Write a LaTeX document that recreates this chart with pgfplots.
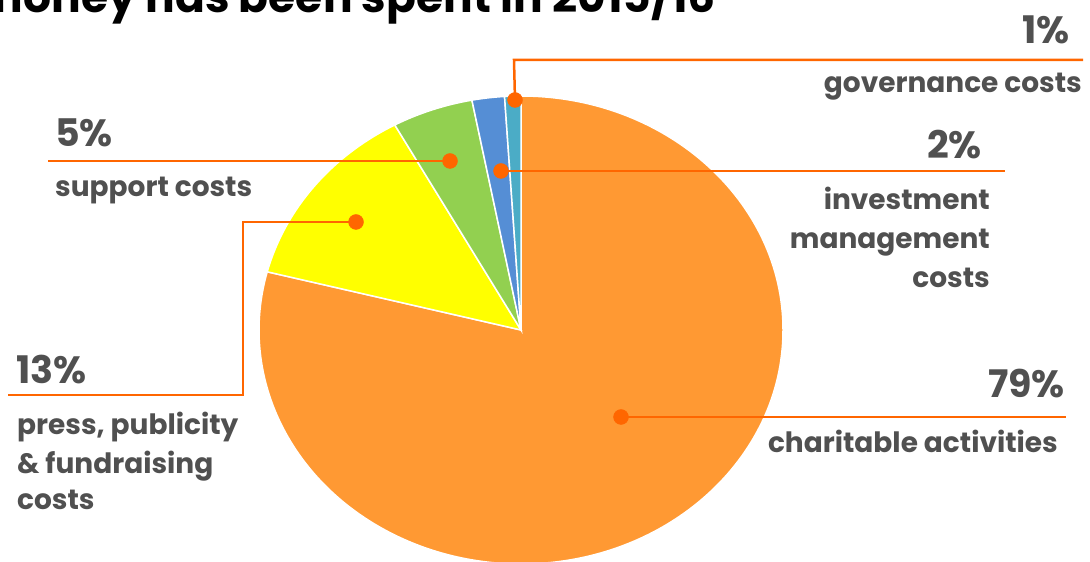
\documentclass[border=0pt]{standalone}
\usepackage{pgfplots}
\pgfplotsset{compat=1.18}
\usepackage{fontspec}
\setmainfont{Poppins}
\definecolor{pOrange}{HTML}{FF9933}
\definecolor{pYellow}{HTML}{FFFF00}
\definecolor{pGreen}{HTML}{92D050}
\definecolor{pBlue}{HTML}{558ED5}
\definecolor{pTeal}{HTML}{4BACC6}
\definecolor{lead}{HTML}{FF6600}
\definecolor{txt}{HTML}{505050}
% shares (percent), clockwise from the top
\def\pA{79}% charitable activities
\def\pB{13}% press, publicity & fundraising costs
\def\pC{5}%  support costs
\def\pD{2}%  investment management costs
\def\pE{1}%  governance costs
\begin{document}
\begin{tikzpicture}
\clip (0,0) rectangle (1090pt,562pt);
\begin{axis}[
  x=1pt, y=1pt, xmin=0, xmax=1090, ymin=0, ymax=562,
  scale only axis, hide axis, clip=false,
]
% wedges
\pgfmathsetmacro{\aA}{90}
\pgfmathsetmacro{\aB}{90-3.6*\pA}
\pgfmathsetmacro{\aC}{\aB-3.6*\pB}
\pgfmathsetmacro{\aD}{\aC-3.6*\pC}
\pgfmathsetmacro{\aE}{\aD-3.6*\pD}
\pgfmathsetmacro{\aF}{\aE-3.6*\pE}
\fill[pOrange,draw=white,line width=1.5pt] (axis cs:521,232) -- ++(\aA:262pt and 234pt) arc[start angle=\aA, end angle=\aB, x radius=262pt, y radius=234pt] -- cycle;
\fill[pYellow,draw=white,line width=1.5pt] (axis cs:521,232) -- ++(\aB:262pt and 234pt) arc[start angle=\aB, end angle=\aC, x radius=262pt, y radius=234pt] -- cycle;
\fill[pGreen,draw=white,line width=1.5pt] (axis cs:521,232) -- ++(\aC:262pt and 234pt) arc[start angle=\aC, end angle=\aD, x radius=262pt, y radius=234pt] -- cycle;
\fill[pBlue,draw=white,line width=1.5pt] (axis cs:521,232) -- ++(\aD:262pt and 234pt) arc[start angle=\aD, end angle=\aE, x radius=262pt, y radius=234pt] -- cycle;
\fill[pTeal,draw=white,line width=1.5pt] (axis cs:521,232) -- ++(\aE:262pt and 234pt) arc[start angle=\aE, end angle=\aF, x radius=262pt, y radius=234pt] -- cycle;
% leader lines
\addplot[lead, line width=2.5pt, mark=none] coordinates {(515,462) (514,502) (1083,502)};
\addplot[lead, line width=2.5pt, mark=none] coordinates {(450,401) (48,401)};
\addplot[lead, line width=2.5pt, mark=none] coordinates {(501,391) (1005,391)};
\addplot[lead, line width=2.5pt, mark=none] coordinates {(356,340) (243,340) (243,167) (8,167)};
\addplot[lead, line width=2.5pt, mark=none] coordinates {(621,145) (1066,145)};
% dots
\addplot[only marks, mark=*, mark size=7.5pt, mark options={fill=lead, draw=lead}] coordinates {(515,462) (450,401) (501,391) (356,340) (621,145)};
% title (cut at the top, as in the reference)
\node[inner sep=0pt, anchor=base east, font=\fontsize{44}{46}\selectfont\bfseries] at (axis cs:716,549) {money has been spent in 2015/16};
% labels
\begin{scope}[every node/.style={text=txt, inner sep=0pt}]
\node[anchor=base west, font=\fontsize{38}{40}\selectfont\bfseries] at (axis cs:55,415) {5\%};
\node[anchor=base west, font=\fontsize{28}{30}\selectfont\bfseries] at (axis cs:55,365) {support costs};
\node[anchor=base west, font=\fontsize{38}{40}\selectfont\bfseries] at (axis cs:16,178) {13\%};
\node[anchor=base west, font=\fontsize{28}{30}\selectfont\bfseries] at (axis cs:17,127) {press, publicity};
\node[anchor=base west, font=\fontsize{28}{30}\selectfont\bfseries] at (axis cs:17,88) {\& fundraising};
\node[anchor=base west, font=\fontsize{28}{30}\selectfont\bfseries] at (axis cs:17,52) {costs};
\node[anchor=base east, font=\fontsize{38}{40}\selectfont\bfseries] at (axis cs:1070,518) {1\%};
\node[anchor=base east, font=\fontsize{28}{30}\selectfont\bfseries] at (axis cs:1082,469) {governance costs};
\node[anchor=base east, font=\fontsize{38}{40}\selectfont\bfseries] at (axis cs:982,403) {2\%};
\node[anchor=base east, font=\fontsize{28}{30}\selectfont\bfseries] at (axis cs:990,352) {investment};
\node[anchor=base east, font=\fontsize{28}{30}\selectfont\bfseries] at (axis cs:990,313) {management};
\node[anchor=base east, font=\fontsize{28}{30}\selectfont\bfseries] at (axis cs:990,274) {costs};
\node[anchor=base east, font=\fontsize{38}{40}\selectfont\bfseries] at (axis cs:1065,164) {79\%};
\node[anchor=base east, font=\fontsize{28}{30}\selectfont\bfseries] at (axis cs:1058,109) {charitable activities};
\end{scope}
\end{axis}
\end{tikzpicture}
\end{document}
